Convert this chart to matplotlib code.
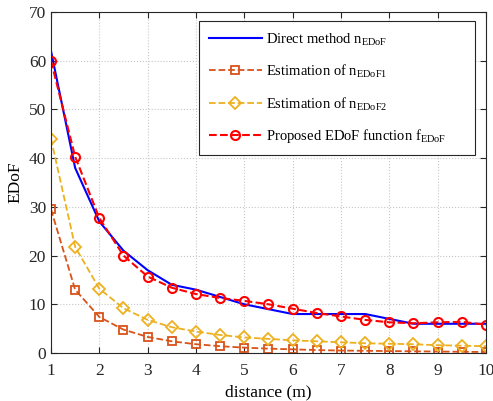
import numpy as np
import matplotlib.pyplot as plt

plt.rcParams['font.family'] = ['Liberation Serif', 'DejaVu Serif']
plt.rcParams['mathtext.fontset'] = 'custom'
plt.rcParams['mathtext.rm'] = 'Liberation Serif'

# 距离（米）
distance = [1, 1.5, 2, 2.5, 3, 3.5, 4, 4.5, 5, 5.5, 6, 6.5, 7, 7.5, 8, 8.5, 9, 9.5, 10]

# 直接法
direct = [62, 38, 27, 21, 17, 14, 13, 11.5, 10, 9, 8, 8, 8, 8, 7, 6, 6, 6, 6]
# 估计 nEDoF1
est1 = [29.5, 13, 7.4, 4.8, 3.3, 2.4, 1.8, 1.4, 1.1, 0.9, 0.75, 0.6, 0.5, 0.45, 0.4, 0.35, 0.3, 0.25, 0.2]
# 估计 nEDoF2
est2 = [44, 21.8, 13.2, 9.2, 6.8, 5.3, 4.4, 3.7, 3.2, 2.9, 2.6, 2.4, 2.2, 2.0, 1.9, 1.8, 1.6, 1.5, 1.4]
# 提出的函数
proposed = [60, 40.3, 27.7, 20, 15.7, 13.4, 12.1, 11.3, 10.7, 10.0, 9.1, 8.2, 7.5, 6.8, 6.3, 6.1, 6.3, 6.4, 5.8]

fig = plt.figure(figsize=(4.93, 4.01), dpi=100)
ax = fig.add_axes([0.1034, 0.1197, 0.8824, 0.8503])

ax.plot(distance, direct, '-', color='b', lw=1.5, label=r'Direct method n$_{\mathrm{EDoF}}$')
ax.plot(distance, est1, '--s', color='#D95319', lw=1.3, ms=6, mfc='none', mew=1.3,
        label=r'Estimation of n$_{\mathrm{EDoF1}}$')
ax.plot(distance, est2, '--D', color='#EDB120', lw=1.3, ms=6, mfc='none', mew=1.3,
        label=r'Estimation of n$_{\mathrm{EDoF2}}$')
ax.plot(distance, proposed, '--o', color='r', lw=1.5, ms=6.5, mfc='none', mew=1.5,
        label=r'Proposed EDoF function f$_{\mathrm{EDoF}}$')

ax.set_xlim(1, 10)
ax.set_ylim(0, 70)
ax.set_xticks(np.arange(1, 11))
ax.set_yticks(np.arange(0, 71, 10))
ax.grid(True, ls=':', color='#c8c8c8', lw=0.8)
ax.tick_params(direction='in', top=True, right=True, labelsize=12.5, colors='#262626', length=4)
ax.tick_params(axis='x', pad=7)
for s in ax.spines.values():
    s.set_color('#262626')
    s.set_linewidth(0.8)

ax.set_xlabel('distance (m)', fontsize=12.5, labelpad=4)
ax.set_ylabel('EDoF', fontsize=12.5, labelpad=4)

# 图例框位置按原图对齐
leg = ax.legend(loc='upper left', mode='expand', fontsize=10.5, handlelength=3.6,
                handletextpad=0.3, labelspacing=1.0, borderpad=0.7, borderaxespad=0,
                fancybox=False, framealpha=1, edgecolor='#262626',
                bbox_to_anchor=(0.340, 0.5, 0.6345, 0.4736))
leg.get_frame().set_linewidth(0.8)

fig.savefig('out.png', dpi=100)
